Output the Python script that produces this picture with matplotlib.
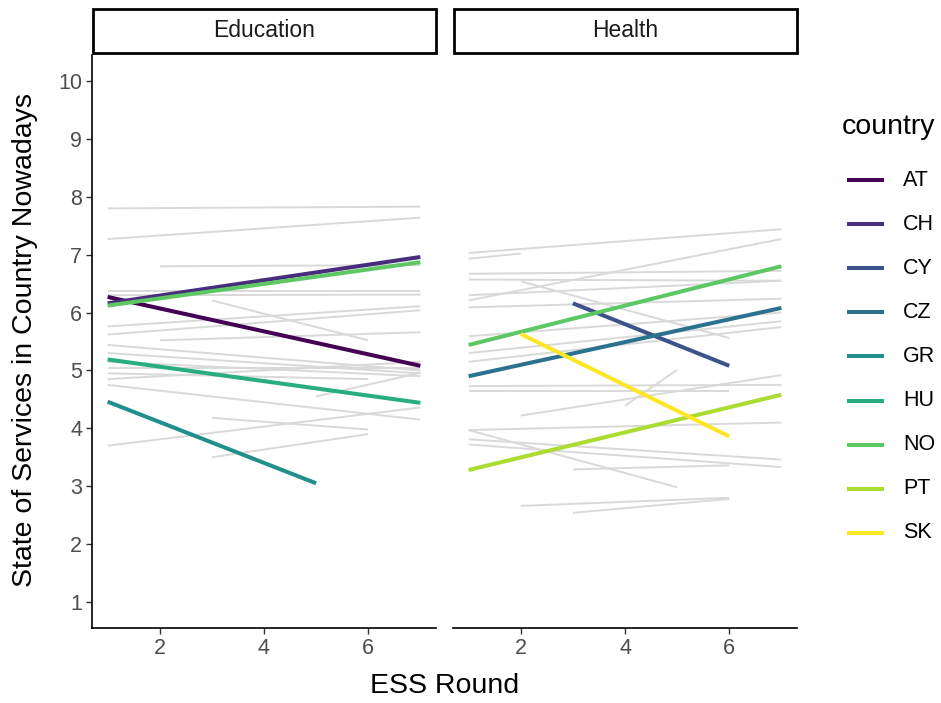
import matplotlib.pyplot as plt
from matplotlib.patches import Rectangle
from matplotlib.lines import Line2D

plt.rcParams['font.family'] = ['Liberation Sans', 'DejaVu Sans']

# highlighted countries and their viridis colours
countries = ['AT', 'CH', 'CY', 'CZ', 'GR', 'HU', 'NO', 'PT', 'SK']
colors = ['#440154', '#472D7B', '#3B528B', '#2C728E', '#21908C',
          '#27AD81', '#5DC863', '#AADC32', '#FDE725']

# Education - highlighted fits (start round, end round, start value, end value)
edu_hl_country = ['AT', 'CH', 'GR', 'HU', 'NO']
edu_hl_r0 = [1, 1, 1, 1, 1]
edu_hl_r1 = [7, 7, 5, 7, 7]
edu_hl_v0 = [6.27, 6.16, 4.46, 5.19, 6.12]
edu_hl_v1 = [5.08, 6.96, 3.05, 4.44, 6.87]

# Education - other countries
edu_grey_r0 = [1, 1, 2, 1, 1, 3, 1, 1, 2, 1, 1, 1, 1, 1, 1, 5, 1, 3, 3, 1]
edu_grey_r1 = [7, 7, 7, 7, 7, 6, 7, 7, 7, 7, 7, 7, 6, 7, 7, 7, 7, 6, 6, 7]
edu_grey_v0 = [7.80, 7.27, 6.80, 6.38, 6.30, 6.21, 5.76, 5.62, 5.52, 5.44,
               5.30, 5.05, 4.95, 4.85, 4.75, 4.55, 3.70, 4.18, 3.50, 5.15]
edu_grey_v1 = [7.83, 7.64, 6.82, 6.38, 6.31, 5.52, 6.11, 6.04, 5.66, 5.00,
               4.95, 5.05, 4.85, 5.15, 4.15, 4.96, 4.36, 3.98, 3.90, 4.90]

# Health - highlighted fits
hea_hl_country = ['CY', 'CZ', 'NO', 'PT', 'SK']
hea_hl_r0 = [3, 1, 1, 1, 2]
hea_hl_r1 = [6, 7, 7, 7, 6]
hea_hl_v0 = [6.16, 4.90, 5.44, 3.28, 5.63]
hea_hl_v1 = [5.08, 6.08, 6.80, 4.58, 3.86]

# Health - other countries
hea_grey_r0 = [1, 1, 1, 1, 1, 1, 1, 2, 1, 1, 1, 1, 1, 2, 4, 1, 1, 1, 1, 3, 2, 3]
hea_grey_r1 = [7, 2, 7, 7, 7, 7, 7, 6, 7, 7, 7, 7, 6, 7, 5, 7, 5, 7, 7, 6, 6, 6]
hea_grey_v0 = [7.03, 6.93, 6.67, 6.57, 6.30, 6.21, 6.09, 6.54, 5.59, 5.30,
               5.15, 4.73, 4.65, 4.22, 4.39, 3.97, 3.97, 3.81, 3.72, 3.29,
               2.66, 2.54]
hea_grey_v1 = [7.44, 7.02, 6.72, 6.55, 6.55, 7.27, 6.24, 5.56, 6.00, 5.85,
               5.75, 4.75, 4.65, 4.92, 5.01, 4.10, 2.98, 3.46, 3.33, 3.36,
               2.80, 2.78]

panels = [
    ('Education', edu_grey_r0, edu_grey_r1, edu_grey_v0, edu_grey_v1,
     edu_hl_country, edu_hl_r0, edu_hl_r1, edu_hl_v0, edu_hl_v1),
    ('Health', hea_grey_r0, hea_grey_r1, hea_grey_v0, hea_grey_v1,
     hea_hl_country, hea_hl_r0, hea_hl_r1, hea_hl_v0, hea_hl_v1),
]

W, H = 941, 703
fig = plt.figure(figsize=(W / 100, H / 100), dpi=100)
ax_left = fig.add_axes([92 / W, 1 - 628 / H, 344 / W, 573 / H])
ax_right = fig.add_axes([453 / W, 1 - 628 / H, 344 / W, 573 / H])

for ax, panel in zip([ax_left, ax_right], panels):
    title, gr0, gr1, gv0, gv1, hc, hr0, hr1, hv0, hv1 = panel
    for a, b, c, d in zip(gr0, gr1, gv0, gv1):
        ax.plot([a, b], [c, d], color='#d9d9d9', lw=1.4, solid_capstyle='butt', zorder=1)
    for name, a, b, c, d in zip(hc, hr0, hr1, hv0, hv1):
        ax.plot([a, b], [c, d], color=colors[countries.index(name)], lw=2.9,
                solid_capstyle='butt', zorder=2)

    ax.set_xlim(0.7, 7.3)
    ax.set_ylim(0.55, 10.45)
    ax.set_xticks([2, 4, 6])
    ax.set_yticks(range(1, 11))
    ax.spines['top'].set_visible(False)
    ax.spines['right'].set_visible(False)
    for s in ['left', 'bottom']:
        ax.spines[s].set_linewidth(1.2)
    ax.tick_params(length=4, width=1, color='#333333', labelcolor='#4D4D4D',
                   labelsize=15.5, pad=3)

    # facet strip
    ax.add_patch(Rectangle((0.004, 1.004), 0.995, 0.077, transform=ax.transAxes,
                           facecolor='white', edgecolor='black', lw=2, clip_on=False))
    ax.text(0.5, 1.042, title, transform=ax.transAxes, ha='center', va='center',
            fontsize=16.5, color='#1A1A1A')

ax_right.spines['left'].set_visible(False)
ax_right.tick_params(axis='y', left=False, labelleft=False)

fig.text(445 / W, 1 - 686 / H, 'ESS Round', ha='center', va='center', fontsize=20.5)
fig.text(25 / W, 1 - 340 / H, 'State of Services in Country Nowadays', ha='center',
         va='center', rotation=90, fontsize=20.5)

# legend
fig.text(842 / W, 1 - 127 / H, 'country', ha='left', va='center', fontsize=20.5)
for i, (name, col) in enumerate(zip(countries, colors)):
    y = 1 - (180 + i * 44.1) / H
    fig.add_artist(Line2D([847 / W, 884 / W], [y, y], color=col, lw=2.9,
                          solid_capstyle='butt'))
    fig.text(903 / W, y, name, ha='left', va='center', fontsize=15.5)

fig.savefig('out.png', dpi=100)
